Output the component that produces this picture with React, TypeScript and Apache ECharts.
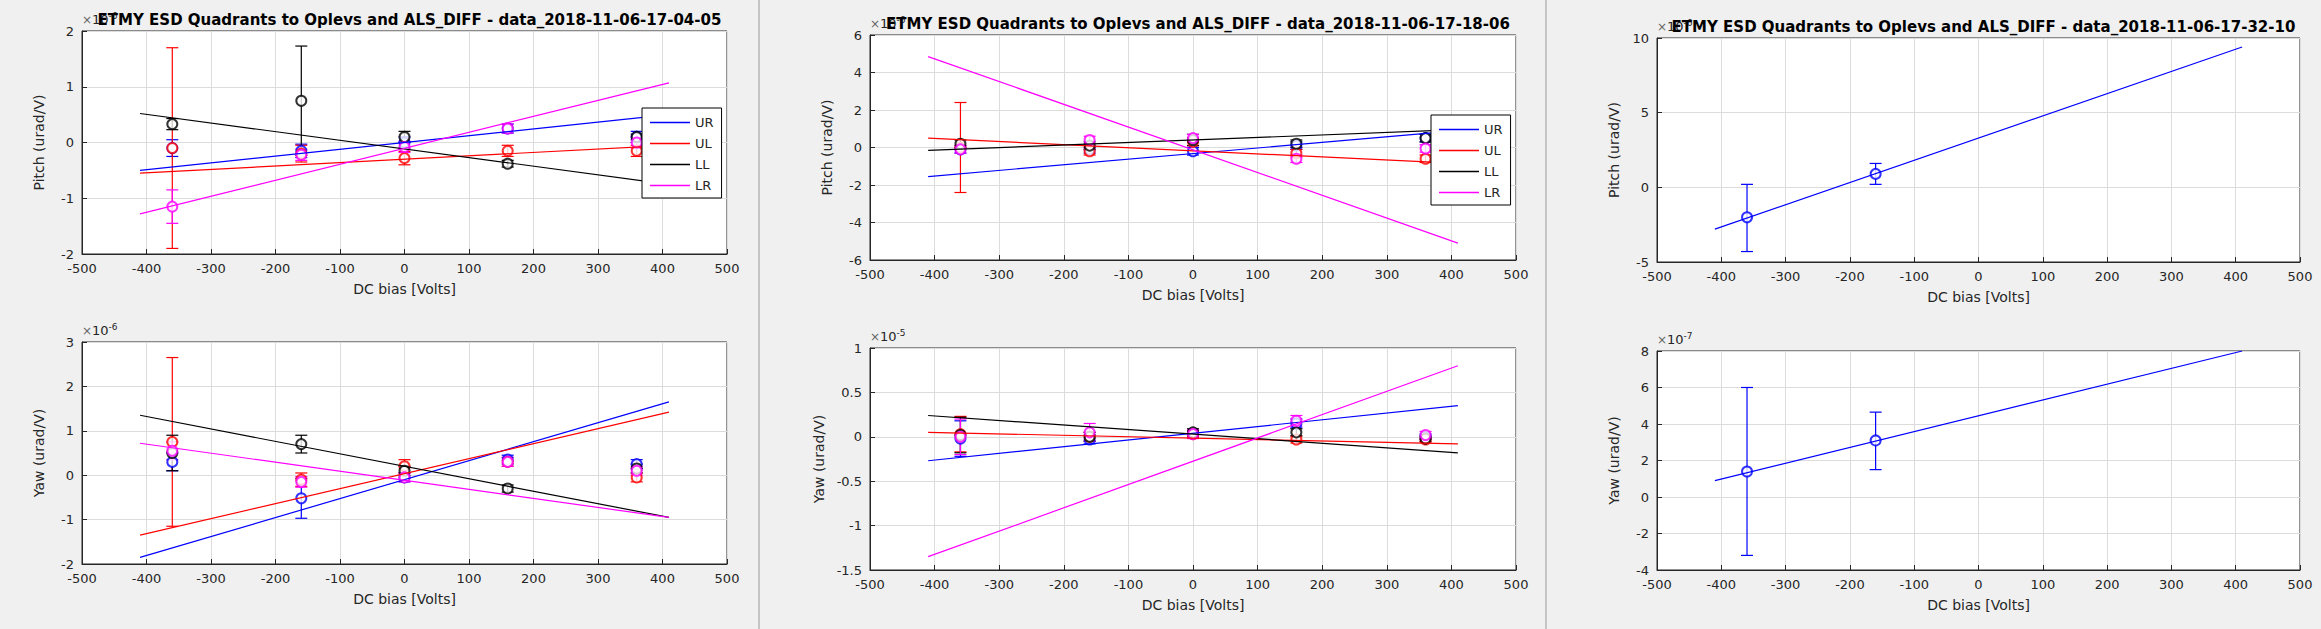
import React, { useEffect, useRef } from 'react';
import * as echarts from 'echarts';

// x positions (DC bias, Volts) and fit line end points
const biasX = [-360, -160, 0, 160, 360];
const fitX = [-410, 410];
const quads = ['UR', 'UL', 'LL', 'LR'];
const colors = ['#0000ff', '#ff0000', '#000000', '#ff00ff'];

// Panel 1 (data_2018-11-06-17-04-05), pitch x1e-6
const p1Pitch = [[-0.1, -0.15, 0.0, 0.25, 0.1], [-0.1, -0.2, -0.28, -0.15, -0.15], [0.33, 0.75, 0.1, -0.38, 0.1], [-1.15, -0.22, -0.08, 0.25, 0.0]];
const p1PitchErr = [[0.15, 0.12, 0.1, 0.08, 0.1], [1.8, 0.15, 0.12, 0.1, 0.1], [0.1, 0.98, 0.1, 0.06, 0.05], [0.3, 0.1, 0.1, 0.08, 0.1]];
const p1PitchFit = [[-0.5, 0.5], [-0.55, -0.05], [0.52, -0.75], [-1.28, 1.07]];
// Panel 1 yaw x1e-6
const p1Yaw = [[0.3, -0.52, -0.05, 0.35, 0.25], [0.75, -0.1, 0.2, 0.3, -0.05], [0.5, 0.7, 0.1, -0.3, 0.15], [0.55, -0.15, -0.05, 0.3, 0.1]];
const p1YawErr = [[0.2, 0.45, 0.1, 0.1, 0.1], [1.9, 0.15, 0.15, 0.1, 0.1], [0.4, 0.2, 0.1, 0.08, 0.1], [0.2, 0.12, 0.1, 0.1, 0.1]];
const p1YawFit = [[-1.85, 1.65], [-1.35, 1.42], [1.35, -0.95], [0.72, -0.95]];

// Panel 2 (data_2018-11-06-17-18-06), pitch
const p2Pitch = [[-0.1, -0.1, -0.2, 0.1, 0.5], [0.0, -0.2, 0.3, -0.3, -0.6], [0.2, 0.1, 0.4, 0.2, 0.5], [-0.1, 0.4, 0.5, -0.6, -0.05]];
const p2PitchErr = [[0.2, 0.2, 0.2, 0.2, 0.2], [2.4, 0.2, 0.2, 0.2, 0.2], [0.2, 0.2, 0.3, 0.2, 0.2], [0.2, 0.2, 0.2, 0.2, 0.2]];
const p2PitchFit = [[-1.55, 0.9], [0.5, -0.85], [-0.15, 0.95], [4.85, -5.1]];
// Panel 2 yaw x1e-5
const p2Yaw = [[-0.02, -0.03, 0.04, 0.15, 0.0], [0.03, 0.0, 0.03, -0.03, -0.03], [0.02, 0.0, 0.05, 0.05, -0.02], [0.0, 0.05, 0.03, 0.18, 0.02]];
const p2YawErr = [[0.2, 0.05, 0.04, 0.05, 0.03], [0.2, 0.05, 0.04, 0.04, 0.03], [0.2, 0.05, 0.04, 0.04, 0.03], [0.2, 0.1, 0.05, 0.06, 0.04]];
const p2YawFit = [[-0.27, 0.35], [0.05, -0.08], [0.24, -0.18], [-1.35, 0.8]];

// Panel 3 (data_2018-11-06-17-32-10), UR only
const p3X = [-360, -160];
const p3Pitch = [-2.0, 0.9];
const p3PitchLow = [-4.3, 0.2];
const p3PitchHigh = [0.2, 1.6];
const p3PitchFit = [-2.8, 9.4];
const p3Yaw = [1.4, 3.1];
const p3YawLow = [-3.2, 1.5];
const p3YawHigh = [6.0, 4.65];
const p3YawFit = [0.9, 8.0];

const titles = [
  'ETMY ESD Quadrants to Oplevs and ALS_DIFF - data_2018-11-06-17-04-05',
  'ETMY ESD Quadrants to Oplevs and ALS_DIFF - data_2018-11-06-17-18-06',
  'ETMY ESD Quadrants to Oplevs and ALS_DIFF - data_2018-11-06-17-32-10',
];
const yRanges = [[-2, 2, 1], [-2, 3, 1], [-6, 6, 2], [-1.5, 1, 0.5], [-5, 10, 5], [-4, 8, 2]];
const exps = ['-6', '-6', '-6', '-5', '-6', '-7'];

const FONT = 'DejaVu Sans';
const TXT = '#262626';

const grids = [
  { left: 82, top: 31, width: 645, height: 223 },
  { left: 82, top: 342, width: 645, height: 222 },
  { left: 870, top: 35, width: 646, height: 225 },
  { left: 870, top: 348, width: 646, height: 222 },
  { left: 1657, top: 38, width: 643, height: 224 },
  { left: 1657, top: 351, width: 643, height: 219 },
];

const errRender = (color: string) => (params: any, api: any) => {
  const x = api.value(0);
  const lo = api.coord([x, api.value(1)]);
  const hi = api.coord([x, api.value(2)]);
  const w = 6;
  const st = { stroke: color, lineWidth: 1.2 };
  return {
    type: 'group',
    children: [
      { type: 'line', shape: { x1: lo[0], y1: lo[1], x2: hi[0], y2: hi[1] }, style: st },
      { type: 'line', shape: { x1: lo[0] - w, y1: lo[1], x2: lo[0] + w, y2: lo[1] }, style: st },
      { type: 'line', shape: { x1: hi[0] - w, y1: hi[1], x2: hi[0] + w, y2: hi[1] }, style: st },
    ],
  };
};

const App = () => {
  const chartRef = useRef<HTMLDivElement>(null);

  useEffect(() => {
    const chart = echarts.init(chartRef.current!, undefined, { renderer: 'svg' });
    const series: any[] = [];

    const addPanel = (gi: number, vals: number[][], errs: number[][], fits: number[][]) => {
      quads.forEach((q, i) => {
        series.push({
          type: 'line', name: q, xAxisIndex: gi, yAxisIndex: gi, symbol: 'none',
          lineStyle: { color: colors[i], width: 1.2 }, itemStyle: { color: colors[i] },
          data: fitX.map((x, k) => [x, fits[i][k]]),
        });
        series.push({
          type: 'custom', xAxisIndex: gi, yAxisIndex: gi, renderItem: errRender(colors[i]),
          data: biasX.map((x, k) => [x, vals[i][k] - errs[i][k], vals[i][k] + errs[i][k]]),
        });
        series.push({
          type: 'scatter', xAxisIndex: gi, yAxisIndex: gi, symbol: 'emptyCircle', symbolSize: 10,
          itemStyle: { color: colors[i], borderColor: colors[i], borderWidth: 1.2 },
          data: biasX.map((x, k) => [x, vals[i][k]]),
        });
      });
    };
    addPanel(0, p1Pitch, p1PitchErr, p1PitchFit);
    addPanel(1, p1Yaw, p1YawErr, p1YawFit);
    addPanel(2, p2Pitch, p2PitchErr, p2PitchFit);
    addPanel(3, p2Yaw, p2YawErr, p2YawFit);

    const addSingle = (gi: number, vals: number[], lo: number[], hi: number[], fit: number[]) => {
      series.push({
        type: 'line', xAxisIndex: gi, yAxisIndex: gi, symbol: 'none',
        lineStyle: { color: colors[0], width: 1.2 }, data: fitX.map((x, k) => [x, fit[k]]),
      });
      series.push({
        type: 'custom', xAxisIndex: gi, yAxisIndex: gi, renderItem: errRender(colors[0]),
        data: p3X.map((x, k) => [x, lo[k], hi[k]]),
      });
      series.push({
        type: 'scatter', xAxisIndex: gi, yAxisIndex: gi, symbol: 'emptyCircle', symbolSize: 10,
        itemStyle: { color: colors[0], borderColor: colors[0], borderWidth: 1.2 },
        data: p3X.map((x, k) => [x, vals[k]]),
      });
    };
    addSingle(4, p3Pitch, p3PitchLow, p3PitchHigh, p3PitchFit);
    addSingle(5, p3Yaw, p3YawLow, p3YawHigh, p3YawFit);

    const axisCommon = {
      axisLine: { show: true, onZero: false, lineStyle: { color: TXT } },
      axisTick: { inside: true, length: 5, lineStyle: { color: TXT } },
      axisLabel: { color: TXT, fontFamily: FONT, fontSize: 13 },
      splitLine: { show: true, lineStyle: { color: '#dcdcdc' } },
      nameTextStyle: { color: TXT, fontFamily: FONT, fontSize: 14 },
    };

    const legendBox = (left: number, top: number) => ({
      left, top, orient: 'vertical', data: quads, icon: 'rect', itemWidth: 40, itemHeight: 1.5,
      itemGap: 8, padding: [8, 8, 6, 8], backgroundColor: '#fff', borderColor: '#000', borderWidth: 1,
      borderRadius: 0, textStyle: { color: TXT, fontFamily: FONT, fontSize: 13 },
    });

    const graphics: any[] = [
      { type: 'line', shape: { x1: 759, y1: 0, x2: 759, y2: 629 }, style: { stroke: '#9a9a9a', lineWidth: 1 } },
      { type: 'line', shape: { x1: 1546, y1: 0, x2: 1546, y2: 629 }, style: { stroke: '#9a9a9a', lineWidth: 1 } },
    ];
    grids.forEach((g, i) => {
      graphics.push({
        type: 'text', left: g.left, top: g.top - 20, z: 1,
        style: {
          text: '{a|×}{b|10}{c|' + exps[i] + '}',
          rich: {
            a: { fill: '#666', fontSize: 12, fontFamily: FONT },
            b: { fill: TXT, fontSize: 13, fontFamily: FONT },
            c: { fill: TXT, fontSize: 9, fontFamily: FONT, verticalAlign: 'top', padding: [0, 0, 8, 0] },
          },
        },
      });
    });

    const options = {
      animation: false,
      backgroundColor: '#f0f0f0',
      title: titles.map((t, i) => ({
        text: t, left: grids[i * 2].left + grids[i * 2].width / 2, textAlign: 'center', top: grids[i * 2].top - 24, z: 10,
        textStyle: { fontFamily: FONT, fontSize: 15, fontWeight: 'bold', color: '#000' },
      })),
      legend: [legendBox(642, 108), legendBox(1431, 115)],
      grid: grids.map((g) => ({ ...g, show: true, backgroundColor: '#fff', borderColor: TXT, borderWidth: 1 })),
      xAxis: grids.map((_, i) => ({
        ...axisCommon, type: 'value', gridIndex: i, min: -500, max: 500, interval: 100,
        name: 'DC bias [Volts]', nameLocation: 'middle', nameGap: 28,
      })),
      yAxis: grids.map((_, i) => ({
        ...axisCommon, type: 'value', gridIndex: i,
        min: yRanges[i][0], max: yRanges[i][1], interval: yRanges[i][2],
        name: i % 2 === 0 ? 'Pitch (urad/V)' : 'Yaw (urad/V)', nameLocation: 'middle', nameGap: i === 3 ? 44 : 36,
      })),
      series,
      graphic: graphics,
    };

    chart.setOption(options);
    return () => {
      chart.dispose();
    };
  }, []);

  return (
    <div style={{ position: 'absolute', left: 0, top: 0, width: '2321px', height: '629px' }} ref={chartRef}></div>
  );
};
export default App;
